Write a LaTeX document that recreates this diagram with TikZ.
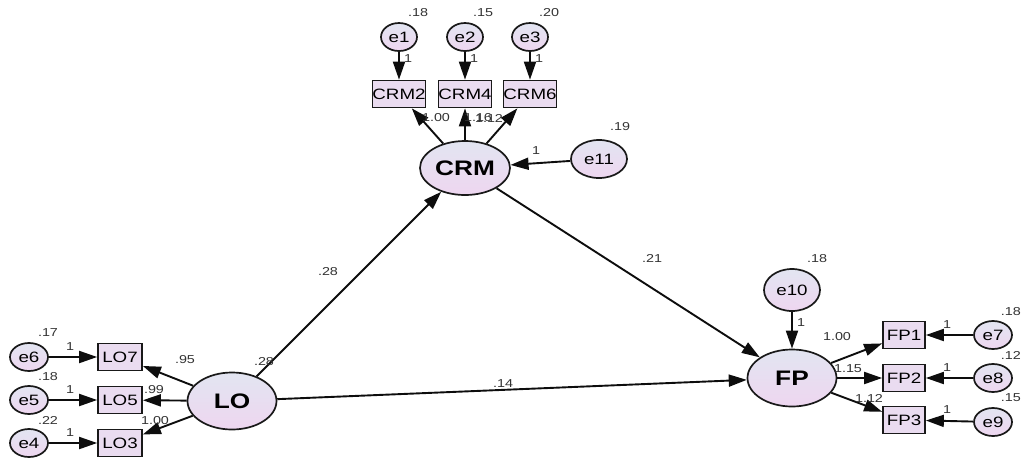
\documentclass[tikz,border=0pt]{standalone}
\usepackage{fontspec}
\setmainfont[FakeStretch=1.25]{Liberation Sans}
\usetikzlibrary{shapes.geometric,arrows.meta}

\definecolor{shadeA}{RGB}{226,229,241}
\definecolor{shadeB}{RGB}{238,214,240}
\definecolor{boxfill}{RGB}{234,220,240}

\tikzset{
  latent/.style={ellipse, draw=black!90, line width=1.7pt, inner sep=0pt,
    top color=shadeA, bottom color=shadeB, font=\bfseries\fontsize{21}{21}\selectfont},
  errnode/.style={ellipse, draw=black!90, line width=1.7pt, inner sep=0pt,
    top color=shadeA, bottom color=shadeB, font=\fontsize{15}{15}\selectfont},
  obs/.style={rectangle, draw=black!90, line width=1.7pt, inner sep=0pt,
    fill=boxfill, minimum width=44pt, minimum height=27pt,
    font=\fontsize{15}{15}\selectfont},
  est/.style={inner sep=0pt, font=\fontsize{11.5}{11.5}\selectfont, text=black!80},
  path/.style={line width=1.9pt, draw=black!95, -{Triangle[length=18pt,width=12pt]}},
}

\begin{document}
\begin{tikzpicture}[x=1pt, y=-1pt]
\useasboundingbox (0,0) rectangle (1021,459);

% latent variables
\node[latent, minimum width=90pt, minimum height=54pt] (CRM) at (465,168) {CRM};
\node[latent, minimum width=89pt, minimum height=57pt] (LO) at (232,401) {LO};
\node[latent, minimum width=89pt, minimum height=57pt] (FP) at (792,378) {FP};

% CRM indicators and errors
\node[obs] (CRM2) at (399,94) {CRM2};
\node[obs] (CRM4) at (465,94) {CRM4};
\node[obs] (CRM6) at (530,94) {CRM6};
\node[errnode, minimum width=36pt, minimum height=28pt] (e1) at (399,37) {e1};
\node[errnode, minimum width=36pt, minimum height=28pt] (e2) at (465,37) {e2};
\node[errnode, minimum width=36pt, minimum height=28pt] (e3) at (530,37) {e3};
\node[errnode, minimum width=56pt, minimum height=38pt] (e11) at (599,159) {e11};

% LO indicators and errors
\node[obs] (LO7) at (120,357) {LO7};
\node[obs] (LO5) at (120,400) {LO5};
\node[obs] (LO3) at (120,443) {LO3};
\node[errnode, minimum width=38pt, minimum height=28pt] (e6) at (29,357) {e6};
\node[errnode, minimum width=38pt, minimum height=28pt] (e5) at (29,400) {e5};
\node[errnode, minimum width=38pt, minimum height=28pt] (e4) at (29,443) {e4};

% FP indicators and errors
\node[obs, minimum width=42pt] (FP1) at (904,335) {FP1};
\node[obs, minimum width=42pt] (FP2) at (904,378) {FP2};
\node[obs, minimum width=42pt] (FP3) at (904,420) {FP3};
\node[errnode, minimum width=38pt, minimum height=28pt] (e7) at (993,335) {e7};
\node[errnode, minimum width=38pt, minimum height=28pt] (e8) at (993,378) {e8};
\node[errnode, minimum width=38pt, minimum height=28pt] (e9) at (993,422) {e9};
\node[errnode, minimum width=56pt, minimum height=42pt] (e10) at (792,290) {e10};

% structural paths
\draw[path] (LO) -- (CRM);
\draw[path] (CRM) -- (FP);
\draw[path] (LO) -- (FP);

% measurement paths
\draw[path] (CRM) -- (CRM2);
\draw[path] (CRM) -- (CRM4);
\draw[path] (CRM) -- (CRM6);
\draw[path] (LO) -- (LO7);
\draw[path] (LO) -- (LO5);
\draw[path] (LO) -- (LO3);
\draw[path] (FP) -- (FP1);
\draw[path] (FP) -- (FP2);
\draw[path] (FP) -- (FP3);

% error paths
\draw[path] (e1) -- (CRM2);
\draw[path] (e2) -- (CRM4);
\draw[path] (e3) -- (CRM6);
\draw[path] (e11) -- (CRM);
\draw[path] (e6) -- (LO7);
\draw[path] (e5) -- (LO5);
\draw[path] (e4) -- (LO3);
\draw[path] (e10) -- (FP);
\draw[path] (e7) -- (FP1);
\draw[path] (e8) -- (FP2);
\draw[path] (e9) -- (FP3);

% variances
\node[est] (v1) at (418,13) {.18};
\node[est] (v2) at (483,13) {.15};
\node[est] (v3) at (549,13) {.20};
\node[est] (v11) at (620,127) {.19};
\node[est] (v6) at (48,333) {.17};
\node[est] (v5) at (48,377) {.18};
\node[est] (v4) at (48,420) {.22};
\node[est] (vLO) at (264,362) {.28};
\node[est] (v10) at (817,259) {.18};
\node[est, anchor=east] (v7) at (1021,312) {.18};
\node[est, anchor=east] (v8) at (1021,355) {.12};
\node[est, anchor=east] (v9) at (1021,398) {.15};

% fixed error weights
\node[est] (w1) at (408,59) {1};
\node[est] (w2) at (474,59) {1};
\node[est] (w3) at (539,59) {1};
\node[est] (w11) at (536,151) {1};
\node[est] (w6) at (70,347) {1};
\node[est] (w5) at (70,390) {1};
\node[est] (w4) at (70,433) {1};
\node[est] (w10) at (801,323) {1};
\node[est] (w7) at (947,325) {1};
\node[est] (w8) at (947,368) {1};
\node[est] (w9) at (947,410) {1};

% loadings (CRM4 and CRM6 estimates are printed on top of each other)
\node[est] (lCRM2) at (436,118) {1.00};
\node[est] (lCRM4) at (478,118) {1.16};
\node[est] (lCRM6) at (489,118) {1.12};
\node[est] (lLO7) at (185,360) {.95};
\node[est] (lLO5) at (154,390) {.99};
\node[est] (lLO3) at (155,421) {1.00};
\node[est] (lFP1) at (837,337) {1.00};
\node[est] (lFP2) at (848,369) {1.15};
\node[est] (lFP3) at (869,398) {1.12};

% path coefficients
\node[est] (pLC) at (328,272) {.28};
\node[est] (pCF) at (652,258) {.21};
\node[est] (pLF) at (503,384) {.14};
\end{tikzpicture}
\end{document}
